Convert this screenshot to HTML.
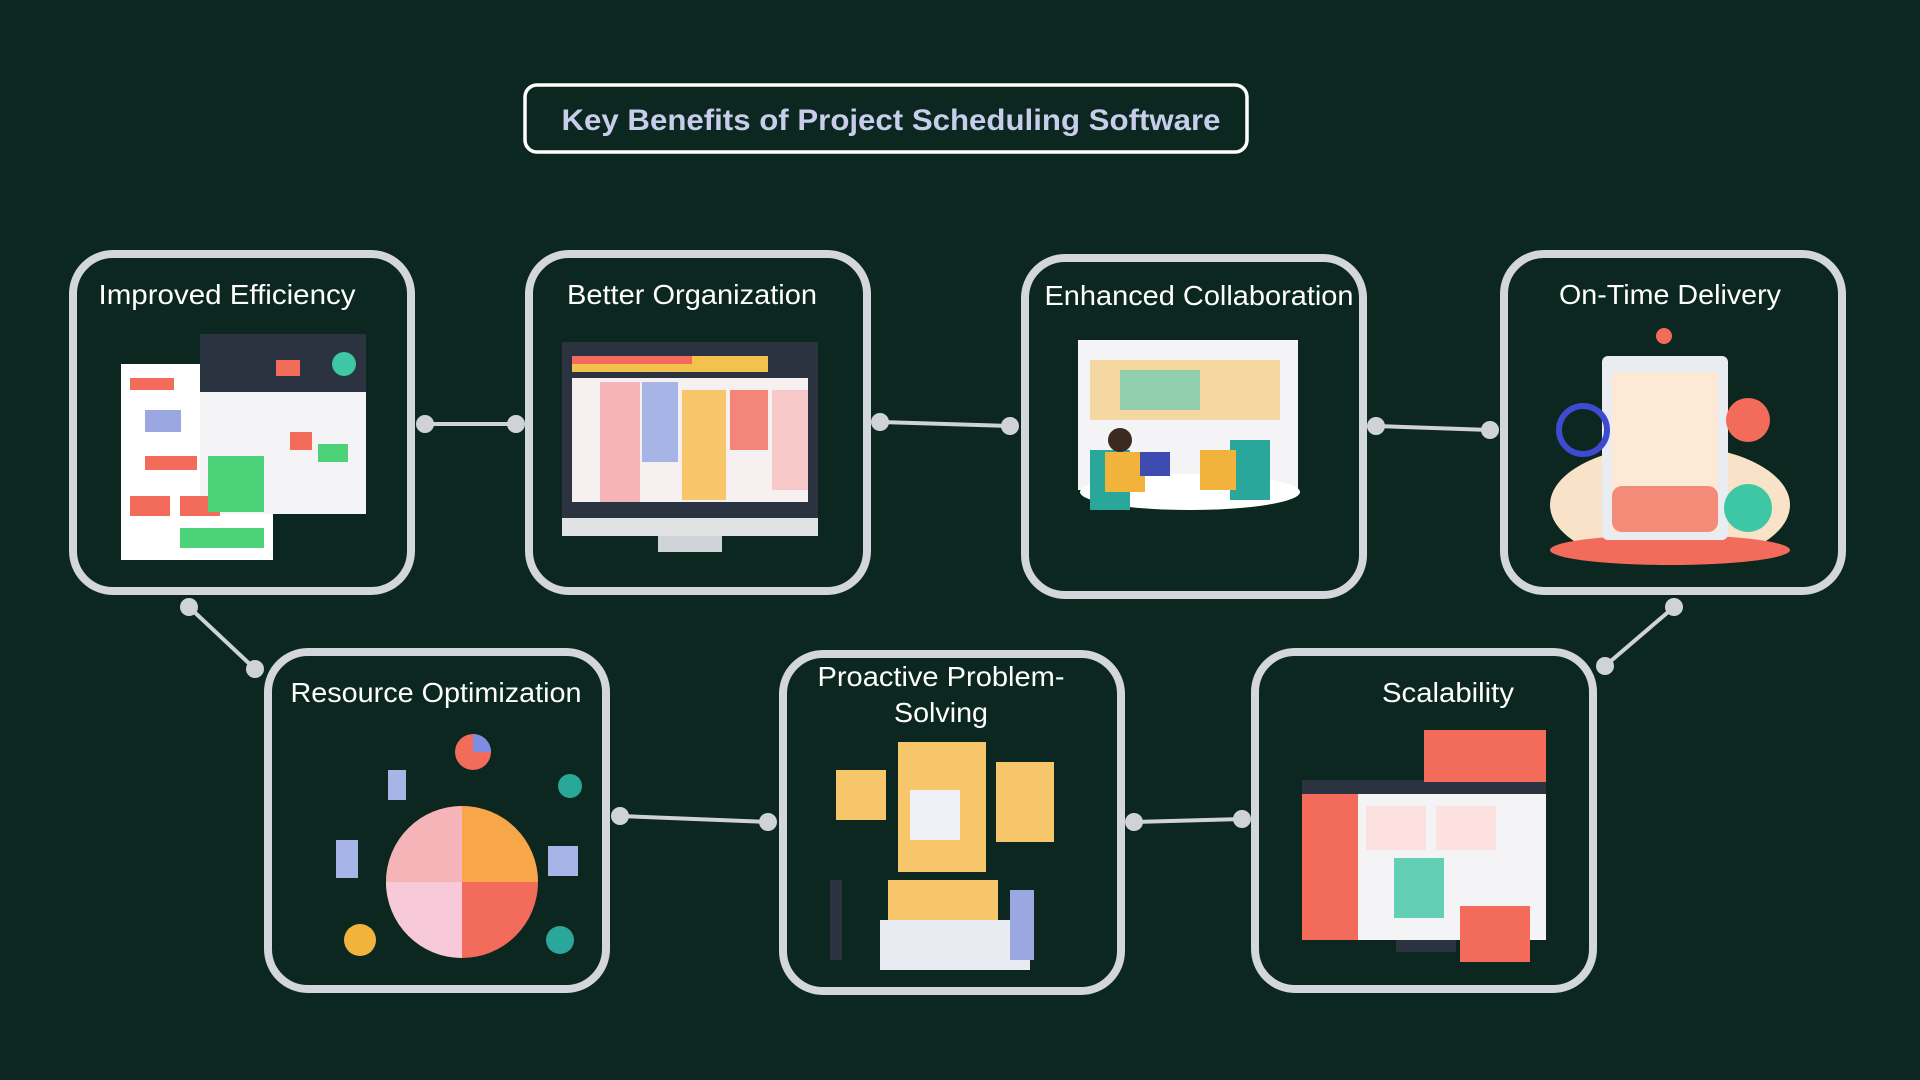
<!DOCTYPE html>
<html><head><meta charset="utf-8"><style>
html,body{margin:0;padding:0;background:#0b271f;}
svg{display:block}
text{font-family:"Liberation Sans",sans-serif}
</style></head><body>
<svg width="1920" height="1080" viewBox="0 0 1920 1080" xmlns="http://www.w3.org/2000/svg">
<rect width="1920" height="1080" fill="#0b271f"/>
<!-- title -->
<rect x="525" y="85" width="722" height="67" rx="12" fill="none" stroke="#ffffff" stroke-width="3.5"/>
<text x="891" y="130" text-anchor="middle" font-size="30" font-weight="bold" fill="#c8cdec" textLength="659" lengthAdjust="spacingAndGlyphs">Key Benefits of Project Scheduling Software</text>

<!-- connectors -->
<g stroke="#cfd3d8" stroke-width="4" fill="#cfd3d8">
<line x1="425" y1="424" x2="516" y2="424"/><circle cx="425" cy="424" r="7"/><circle cx="516" cy="424" r="7"/>
<line x1="880" y1="422" x2="1010" y2="426"/><circle cx="880" cy="422" r="7"/><circle cx="1010" cy="426" r="7"/>
<line x1="1376" y1="426" x2="1490" y2="430"/><circle cx="1376" cy="426" r="7"/><circle cx="1490" cy="430" r="7"/>
<line x1="189" y1="607" x2="255" y2="669"/><circle cx="189" cy="607" r="7"/><circle cx="255" cy="669" r="7"/>
<line x1="620" y1="816" x2="768" y2="822"/><circle cx="620" cy="816" r="7"/><circle cx="768" cy="822" r="7"/>
<line x1="1134" y1="822" x2="1242" y2="819"/><circle cx="1134" cy="822" r="7"/><circle cx="1242" cy="819" r="7"/>
<line x1="1674" y1="607" x2="1605" y2="666"/><circle cx="1674" cy="607" r="7"/><circle cx="1605" cy="666" r="7"/>
</g>

<!-- cards -->
<g fill="#0b271f" stroke="#d3d6da" stroke-width="8">
<rect x="73" y="254" width="338" height="337" rx="40"/>
<rect x="529" y="254" width="338" height="337" rx="40"/>
<rect x="1025" y="258" width="338" height="337" rx="40"/>
<rect x="1504" y="254" width="338" height="337" rx="40"/>
<rect x="268" y="652" width="338" height="337" rx="40"/>
<rect x="783" y="654" width="338" height="337" rx="40"/>
<rect x="1255" y="652" width="338" height="337" rx="40"/>
</g>

<g font-size="28" fill="#ffffff" text-anchor="middle" lengthAdjust="spacingAndGlyphs">
<text x="227" y="304" textLength="257" lengthAdjust="spacingAndGlyphs">Improved Efficiency</text>
<text x="692" y="304" textLength="250" lengthAdjust="spacingAndGlyphs">Better Organization</text>
<text x="1199" y="305" textLength="309" lengthAdjust="spacingAndGlyphs">Enhanced Collaboration</text>
<text x="1670" y="304" textLength="222" lengthAdjust="spacingAndGlyphs">On-Time Delivery</text>
<text x="436" y="702" textLength="291" lengthAdjust="spacingAndGlyphs">Resource Optimization</text>
<text x="941" y="686" textLength="247" lengthAdjust="spacingAndGlyphs">Proactive Problem-</text>
<text x="941" y="722" textLength="94" lengthAdjust="spacingAndGlyphs">Solving</text>
<text x="1448" y="702" textLength="132" lengthAdjust="spacingAndGlyphs">Scalability</text>
</g>

<!-- illus 1 -->
<rect x="121" y="364" width="152" height="196" fill="#ffffff"/>
<rect x="200" y="334" width="166" height="180" fill="#f4f4f6"/>
<rect x="200" y="334" width="166" height="58" fill="#2b3240"/>
<rect x="130" y="378" width="44" height="12" fill="#f26b5b"/>
<rect x="145" y="410" width="36" height="22" fill="#9aa7e0"/>
<rect x="145" y="456" width="52" height="14" fill="#f26b5b"/>
<rect x="130" y="496" width="40" height="20" fill="#f26b5b"/>
<rect x="180" y="496" width="40" height="20" fill="#f26b5b"/>
<rect x="208" y="456" width="56" height="56" fill="#4cd37a"/>
<rect x="180" y="528" width="84" height="20" fill="#4cd37a"/>
<rect x="276" y="360" width="24" height="16" fill="#f26b5b"/>
<rect x="290" y="432" width="22" height="18" fill="#f26b5b"/>
<rect x="318" y="444" width="30" height="18" fill="#4cd37a"/>
<circle cx="344" cy="364" r="12" fill="#3ec7a5"/>
<!-- illus 2 -->
<rect x="562" y="342" width="256" height="176" fill="#2b3240"/>
<rect x="562" y="518" width="256" height="18" fill="#e0e2e4"/>
<rect x="658" y="536" width="64" height="16" fill="#cfd2d6"/>
<rect x="572" y="356" width="196" height="16" fill="#f2c14e"/>
<rect x="572" y="356" width="120" height="8" fill="#f26b5b"/>
<rect x="572" y="378" width="236" height="124" fill="#f7f0f0"/>
<rect x="600" y="382" width="40" height="120" fill="#f5b5b8"/>
<rect x="642" y="382" width="36" height="80" fill="#a7b4e6"/>
<rect x="682" y="390" width="44" height="110" fill="#f7c66b"/>
<rect x="730" y="390" width="38" height="60" fill="#f26b5b" opacity=".8"/>
<rect x="772" y="390" width="36" height="100" fill="#f8c9c9"/>
<!-- illus 3 -->
<rect x="1078" y="340" width="220" height="150" fill="#f4f4f6"/>
<rect x="1090" y="360" width="190" height="60" fill="#f5c36a" opacity=".6"/>
<rect x="1120" y="370" width="80" height="40" fill="#4fcab8" opacity=".6"/>
<ellipse cx="1190" cy="492" rx="110" ry="18" fill="#ffffff"/>
<rect x="1090" y="450" width="40" height="60" fill="#2aa79b"/>
<rect x="1230" y="440" width="40" height="60" fill="#2aa79b"/>
<circle cx="1120" cy="440" r="12" fill="#3b2a22"/>
<rect x="1105" y="452" width="40" height="40" fill="#f2b33c"/>
<rect x="1200" y="450" width="36" height="40" fill="#f2b33c"/>
<rect x="1140" y="452" width="30" height="24" fill="#3e4bb0"/>
<!-- illus 4 -->
<ellipse cx="1670" cy="505" rx="120" ry="60" fill="#f9e3c8"/>
<ellipse cx="1670" cy="550" rx="120" ry="15" fill="#f26b5b"/>
<rect x="1602" y="356" width="126" height="184" rx="6" fill="#e9ecf0"/>
<rect x="1612" y="372" width="106" height="160" fill="#fde9d6"/>
<rect x="1612" y="486" width="106" height="46" rx="10" fill="#f28b78"/>
<circle cx="1583" cy="430" r="24" fill="none" stroke="#3e4bd0" stroke-width="6"/>
<circle cx="1748" cy="420" r="22" fill="#f26b5b"/>
<circle cx="1748" cy="508" r="24" fill="#3ec7a5"/>
<circle cx="1664" cy="336" r="8" fill="#f26b5b"/>
<!-- illus 5 -->
<circle cx="462" cy="882" r="76" fill="#f26b5b"/>
<path d="M462 882 L462 806 A76 76 0 0 0 386 882 Z" fill="#f5b5b8"/>
<path d="M462 882 L386 882 A76 76 0 0 0 462 958 Z" fill="#f8c9d9"/>
<path d="M462 882 L462 806 A76 76 0 0 1 538 882 Z" fill="#f7a64a"/>
<circle cx="473" cy="752" r="18" fill="#f26b5b"/>
<path d="M473 752 L473 734 A18 18 0 0 1 491 752 Z" fill="#7d8ee0"/>
<rect x="388" y="770" width="18" height="30" fill="#a7b4e6"/>
<rect x="336" y="840" width="22" height="38" fill="#a7b4e6"/>
<rect x="548" y="846" width="30" height="30" fill="#a7b4e6"/>
<circle cx="360" cy="940" r="16" fill="#f2b33c"/>
<circle cx="560" cy="940" r="14" fill="#2aa79b"/>
<circle cx="570" cy="786" r="12" fill="#2aa79b"/>
<!-- illus 6 -->
<rect x="898" y="742" width="88" height="130" fill="#f7c66b"/>
<rect x="836" y="770" width="50" height="50" fill="#f7c66b"/>
<rect x="996" y="762" width="58" height="80" fill="#f7c66b"/>
<rect x="888" y="880" width="110" height="40" fill="#f7c66b"/>
<rect x="880" y="920" width="150" height="50" fill="#e8ebf2"/>
<rect x="910" y="790" width="50" height="50" fill="#eef0f6"/>
<rect x="830" y="880" width="12" height="80" fill="#2b3240"/>
<rect x="1010" y="890" width="24" height="70" fill="#9aa7e0"/>
<!-- illus 7 -->
<rect x="1302" y="780" width="244" height="160" fill="#f4f4f6"/>
<rect x="1302" y="780" width="244" height="14" fill="#2b3240"/>
<rect x="1302" y="794" width="56" height="146" fill="#f26b5b"/>
<rect x="1424" y="730" width="122" height="52" fill="#f26b5b"/>
<rect x="1394" y="858" width="50" height="60" fill="#3ec7a5" opacity=".8"/>
<rect x="1460" y="906" width="70" height="56" fill="#f26b5b"/>
<rect x="1366" y="806" width="60" height="44" fill="#fde0e0"/>
<rect x="1436" y="806" width="60" height="44" fill="#fde0e0"/>
<rect x="1396" y="940" width="60" height="12" fill="#2b3240"/>
</svg>
</body></html>
